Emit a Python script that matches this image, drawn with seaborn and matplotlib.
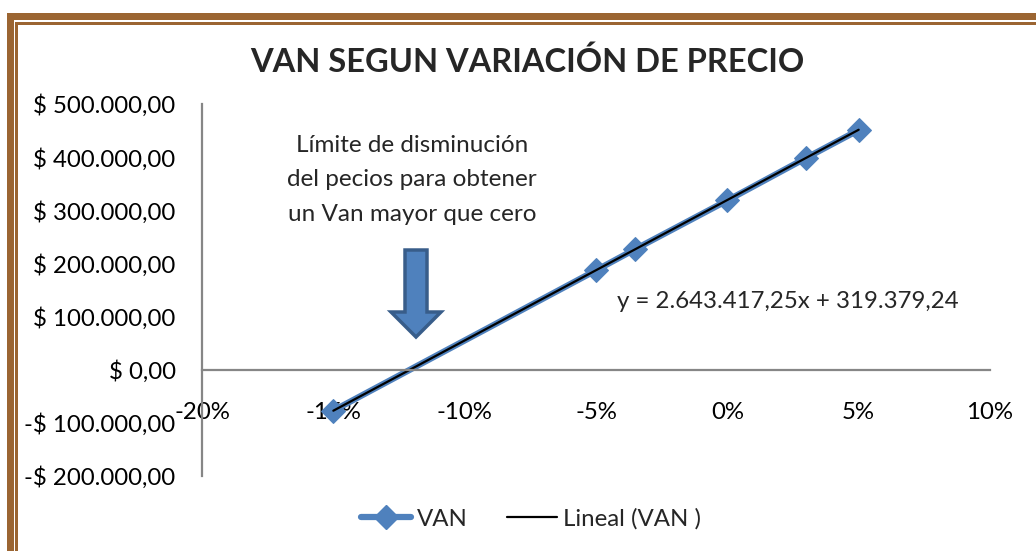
import matplotlib
matplotlib.use("Agg")
import matplotlib.pyplot as plt
from matplotlib.patches import Rectangle, FancyArrow
from matplotlib.lines import Line2D
from matplotlib.ticker import FuncFormatter, MultipleLocator
import numpy as np
import pandas as pd
import seaborn as sns

# Price variation scenarios and the resulting NPV (VAN)
variacion = [-0.15, -0.05, -0.035, 0.0, 0.03, 0.05]
van = [-77000, 187000, 227000, 318500, 398500, 451000]

# Linear trend coefficients shown on the chart
pendiente = 2643417.25
intercepto = 319379.24

titulo = "VAN SEGUN VARIACIÓN DE PRECIO"
nota = "Límite de disminución\ndel pecios para obtener\nun Van mayor que cero"
ecuacion = "y = 2.643.417,25x + 319.379,24"

sns.set_style("white")
plt.rcParams["font.family"] = ["Lato", "DejaVu Sans"]

BLUE = "#4F81BD"
BLUE_DARK = "#385D8A"
GRAY = "#868686"
BROWN = "#9B6532"

df = pd.DataFrame({"variacion": variacion, "VAN": van})

fig = plt.figure(figsize=(10.36, 5.51), dpi=100)
W, H = 1036, 551
ax = fig.add_axes([202 / W, 1 - 476 / H, (990 - 202) / W, (476 - 104) / H])

sns.lineplot(data=df, x="variacion", y="VAN", ax=ax, color=BLUE, lw=4.5,
             marker="D", markersize=12, markeredgecolor=BLUE,
             markerfacecolor=BLUE, label="VAN", legend=False)

xt = np.array([variacion[0], variacion[-1]])
trend = pd.DataFrame({"x": xt, "y": pendiente * xt + intercepto})
sns.lineplot(data=trend, x="x", y="y", ax=ax, color="black", lw=1.6,
             legend=False)

ax.set_xlim(-0.20, 0.10)
ax.set_ylim(-200000, 500000)
ax.xaxis.set_major_locator(MultipleLocator(0.05))
ax.yaxis.set_major_locator(MultipleLocator(100000))


def fmt_money(v, pos=None):
    v = int(round(v))
    s = f"{abs(v):,}".replace(",", ".")
    s = f"$ {s},00"
    return "-" + s if v < 0 else s


def fmt_pct(v, pos=None):
    return f"{v * 100:.0f}%"


ax.yaxis.set_major_formatter(FuncFormatter(fmt_money))
ax.xaxis.set_major_formatter(FuncFormatter(fmt_pct))

for side in ["top", "right"]:
    ax.spines[side].set_visible(False)
ax.spines["bottom"].set_position(("data", 0))
for side in ["left", "bottom"]:
    ax.spines[side].set_color(GRAY)
    ax.spines[side].set_linewidth(1.6)

ax.tick_params(axis="both", direction="out", length=7, width=1.6,
               color=GRAY, labelsize=17.3, labelcolor="black")
ax.tick_params(axis="x", pad=16)
ax.tick_params(axis="y", pad=12)
ax.set_xlabel("")
ax.set_ylabel("")
ax.grid(False)
ax.patch.set_alpha(0)

fig.text(527 / W, 1 - 62 / H, titulo, ha="center", va="center",
         fontsize=23.5, fontweight="bold")
fig.text(412 / W, 1 - 180 / H, nota, ha="center", va="center",
         fontsize=17.5, linespacing=1.8)
fig.text(617 / W, 1 - 301 / H, ecuacion, ha="left", va="center",
         fontsize=17.3)

# Downward arrow marking the break-even price cut
arrow = FancyArrow(416 / W, 1 - 250 / H, 0, -(87) / H, width=22 / W,
                   head_width=50 / W, head_length=25 / H,
                   length_includes_head=True, transform=fig.transFigure,
                   facecolor=BLUE, edgecolor=BLUE_DARK, lw=2.5)
fig.add_artist(arrow)

handles = [
    Line2D([], [], color=BLUE, lw=4.5, marker="D", markersize=12,
           markerfacecolor=BLUE, markeredgecolor=BLUE),
    Line2D([], [], color="black", lw=1.6),
]
fig.legend(handles, ["VAN", "Lineal (VAN )"], loc="center",
           bbox_to_anchor=(531 / W, 1 - 519 / H), ncol=2, frameon=False,
           fontsize=17.3, handlelength=2.1, handletextpad=0.25,
           columnspacing=1.6)

# Double brown frame along the top and left edges
fig.add_artist(Rectangle((7 / W, 0), 7 / W, 1 - 13 / H,
                         transform=fig.transFigure, color=BROWN, lw=0))
fig.add_artist(Rectangle((7 / W, 1 - 20 / H), 1, 7 / H,
                         transform=fig.transFigure, color=BROWN, lw=0))
fig.add_artist(Rectangle((15 / W, 0), 2.5 / W, 1 - 22 / H,
                         transform=fig.transFigure, color=BROWN, lw=0))
fig.add_artist(Rectangle((15 / W, 1 - 24.5 / H), 1, 2.5 / H,
                         transform=fig.transFigure, color=BROWN, lw=0))

fig.savefig("out.png", dpi=100, facecolor="white")
